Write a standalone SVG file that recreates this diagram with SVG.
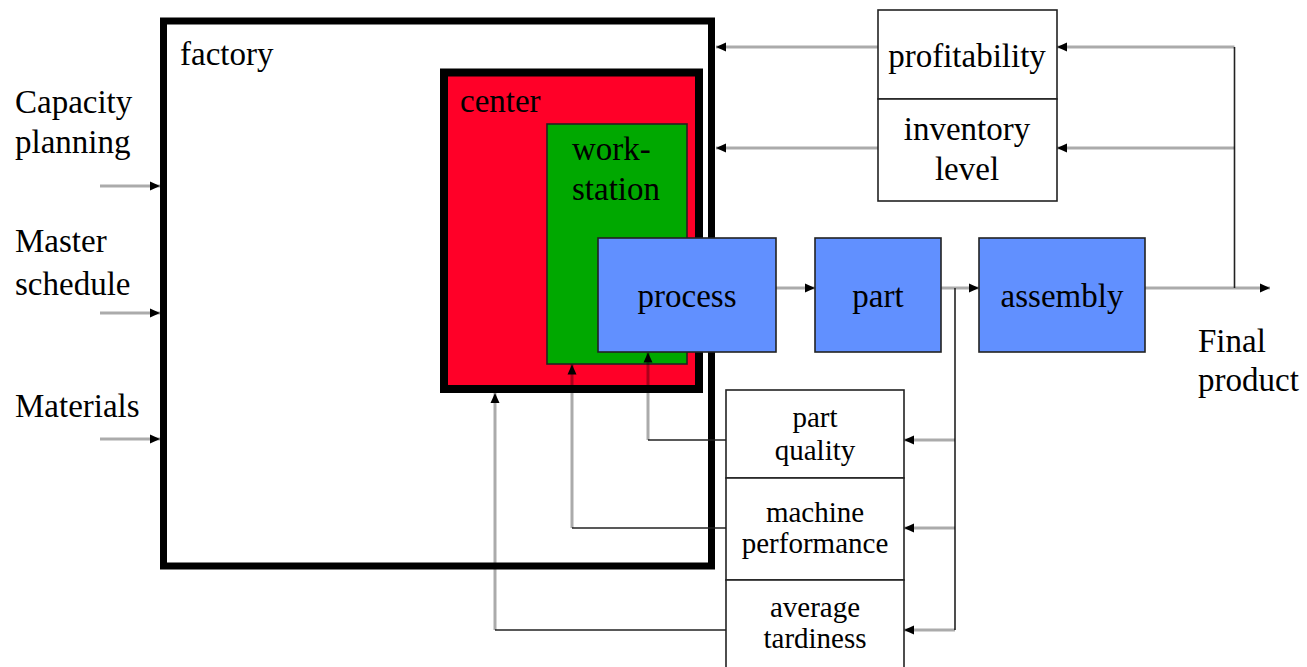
<svg xmlns="http://www.w3.org/2000/svg" width="1307" height="667" viewBox="0 0 1307 667" font-family="Liberation Serif, serif">
  <style>
    .big { font-family: 'Liberation Serif', serif; font-size: 33px; fill: #000; }
    .small { font-family: 'Liberation Serif', serif; font-size: 29px; fill: #000; }
    .mid { text-anchor: middle; }
    .flow { fill: none; stroke: #000; stroke-opacity: 0.33; stroke-width: 3; }
    .link { fill: none; stroke: #222; stroke-width: 1.6; }
    .thin { stroke: #222; stroke-width: 1.6; }
    .box { fill: #fff; stroke: #222; stroke-width: 1.6; }
    .blue { fill: #6190ff; stroke: #222; stroke-width: 1.6; }
  </style>
  <defs>
    <marker id="arrow" markerUnits="userSpaceOnUse" markerWidth="12" markerHeight="12" viewBox="0 0 12 12" refX="11" refY="6" orient="auto">
      <path d="M1,1.5 L11,6 L1,10.5 Z" fill="#000"/>
    </marker>
  </defs>

  <rect width="1307" height="667" fill="#fff"/>

  <!-- factory level -->
  <g id="factory">
    <rect x="163.5" y="21" width="548" height="545" fill="#fff" stroke="#000" stroke-width="7"/>
    <text class="big" x="180" y="65">factory</text>
  </g>

  <!-- work center -->
  <g id="center">
    <rect x="444" y="72.5" width="255" height="316.5" fill="#ff0028" stroke="#000" stroke-width="8"/>
    <text class="big" x="460" y="112">center</text>
  </g>

  <!-- workstation -->
  <g id="workstation">
    <rect x="547" y="124" width="140" height="240" fill="#00a800" class="thin"/>
    <text class="big" x="572" y="160">work-</text>
    <text class="big" x="572" y="200">station</text>
  </g>

  <!-- input labels -->
  <g id="inputs">
    <text class="big" x="15" y="113">Capacity</text>
    <text class="big" x="15" y="153">planning</text>
    <text class="big" x="15" y="252">Master</text>
    <text class="big" x="15" y="295">schedule</text>
    <text class="big" x="15" y="417">Materials</text>
  </g>

  <!-- connectors -->
  <g id="connectors">
    <!-- inputs into the factory -->
    <path class="flow" d="M100,186 H160" marker-end="url(#arrow)"/>
    <path class="flow" d="M100,313 H160" marker-end="url(#arrow)"/>
    <path class="flow" d="M100,439 H160" marker-end="url(#arrow)"/>

    <!-- main product flow -->
    <path class="flow" d="M776,288 H815" marker-end="url(#arrow)"/>
    <path class="flow" d="M941,288 H979" marker-end="url(#arrow)"/>
    <path class="flow" d="M1145,288 H1270" marker-end="url(#arrow)"/>

    <!-- top feedback loop -->
    <path class="link" d="M1234.5,288 V47"/>
    <path class="flow" d="M1234.5,47 H1057" marker-end="url(#arrow)"/>
    <path class="flow" d="M1234.5,148 H1057" marker-end="url(#arrow)"/>
    <path class="flow" d="M878,47 H716" marker-end="url(#arrow)"/>
    <path class="flow" d="M878,148 H716" marker-end="url(#arrow)"/>

    <!-- lower feedback loop -->
    <path class="link" d="M955,288 V630"/>
    <path class="flow" d="M955,440 H904" marker-end="url(#arrow)"/>
    <path class="flow" d="M955,528 H904" marker-end="url(#arrow)"/>
    <path class="flow" d="M955,630 H904" marker-end="url(#arrow)"/>

    <path class="link" d="M726,440 H648"/>
    <path class="flow" d="M648,440 V352.5" marker-end="url(#arrow)"/>
    <path class="link" d="M726,528 H572"/>
    <path class="flow" d="M572,528 V364.5" marker-end="url(#arrow)"/>
    <path class="link" d="M726,630 H495"/>
    <path class="flow" d="M495,630 V393" marker-end="url(#arrow)"/>
  </g>

  <!-- process -->
  <g id="process">
    <rect x="598" y="238" width="178" height="114" class="blue"/>
    <text class="big mid" x="687" y="307">process</text>
  </g>

  <!-- part -->
  <g id="part">
    <rect x="815" y="238" width="126" height="114" class="blue"/>
    <text class="big mid" x="878" y="307">part</text>
  </g>

  <!-- assembly -->
  <g id="assembly">
    <rect x="979" y="238" width="166" height="114" class="blue"/>
    <text class="big mid" x="1062" y="307">assembly</text>
  </g>

  <!-- output label -->
  <g id="final-product">
    <text class="big" x="1198" y="352">Final</text>
    <text class="big" x="1198" y="391">product</text>
  </g>

  <!-- factory-level measures -->
  <g id="profitability">
    <rect x="878" y="10" width="179" height="89" class="box"/>
    <text class="big mid" x="967" y="67">profitability</text>
  </g>
  <g id="inventory-level">
    <rect x="878" y="99" width="179" height="102" class="box"/>
    <text class="big mid" x="967" y="140">inventory</text>
    <text class="big mid" x="967" y="180">level</text>
  </g>

  <!-- shop-floor measures -->
  <g id="part-quality">
    <rect x="726" y="390" width="178" height="88" class="box"/>
    <text class="small mid" x="815" y="427">part</text>
    <text class="small mid" x="815" y="460">quality</text>
  </g>
  <g id="machine-performance">
    <rect x="726" y="478" width="178" height="102" class="box"/>
    <text class="small mid" x="815" y="522">machine</text>
    <text class="small mid" x="815" y="553">performance</text>
  </g>
  <g id="average-tardiness">
    <rect x="726" y="580" width="178" height="110" class="box"/>
    <text class="small mid" x="815" y="617">average</text>
    <text class="small mid" x="815" y="648">tardiness</text>
  </g>
</svg>
